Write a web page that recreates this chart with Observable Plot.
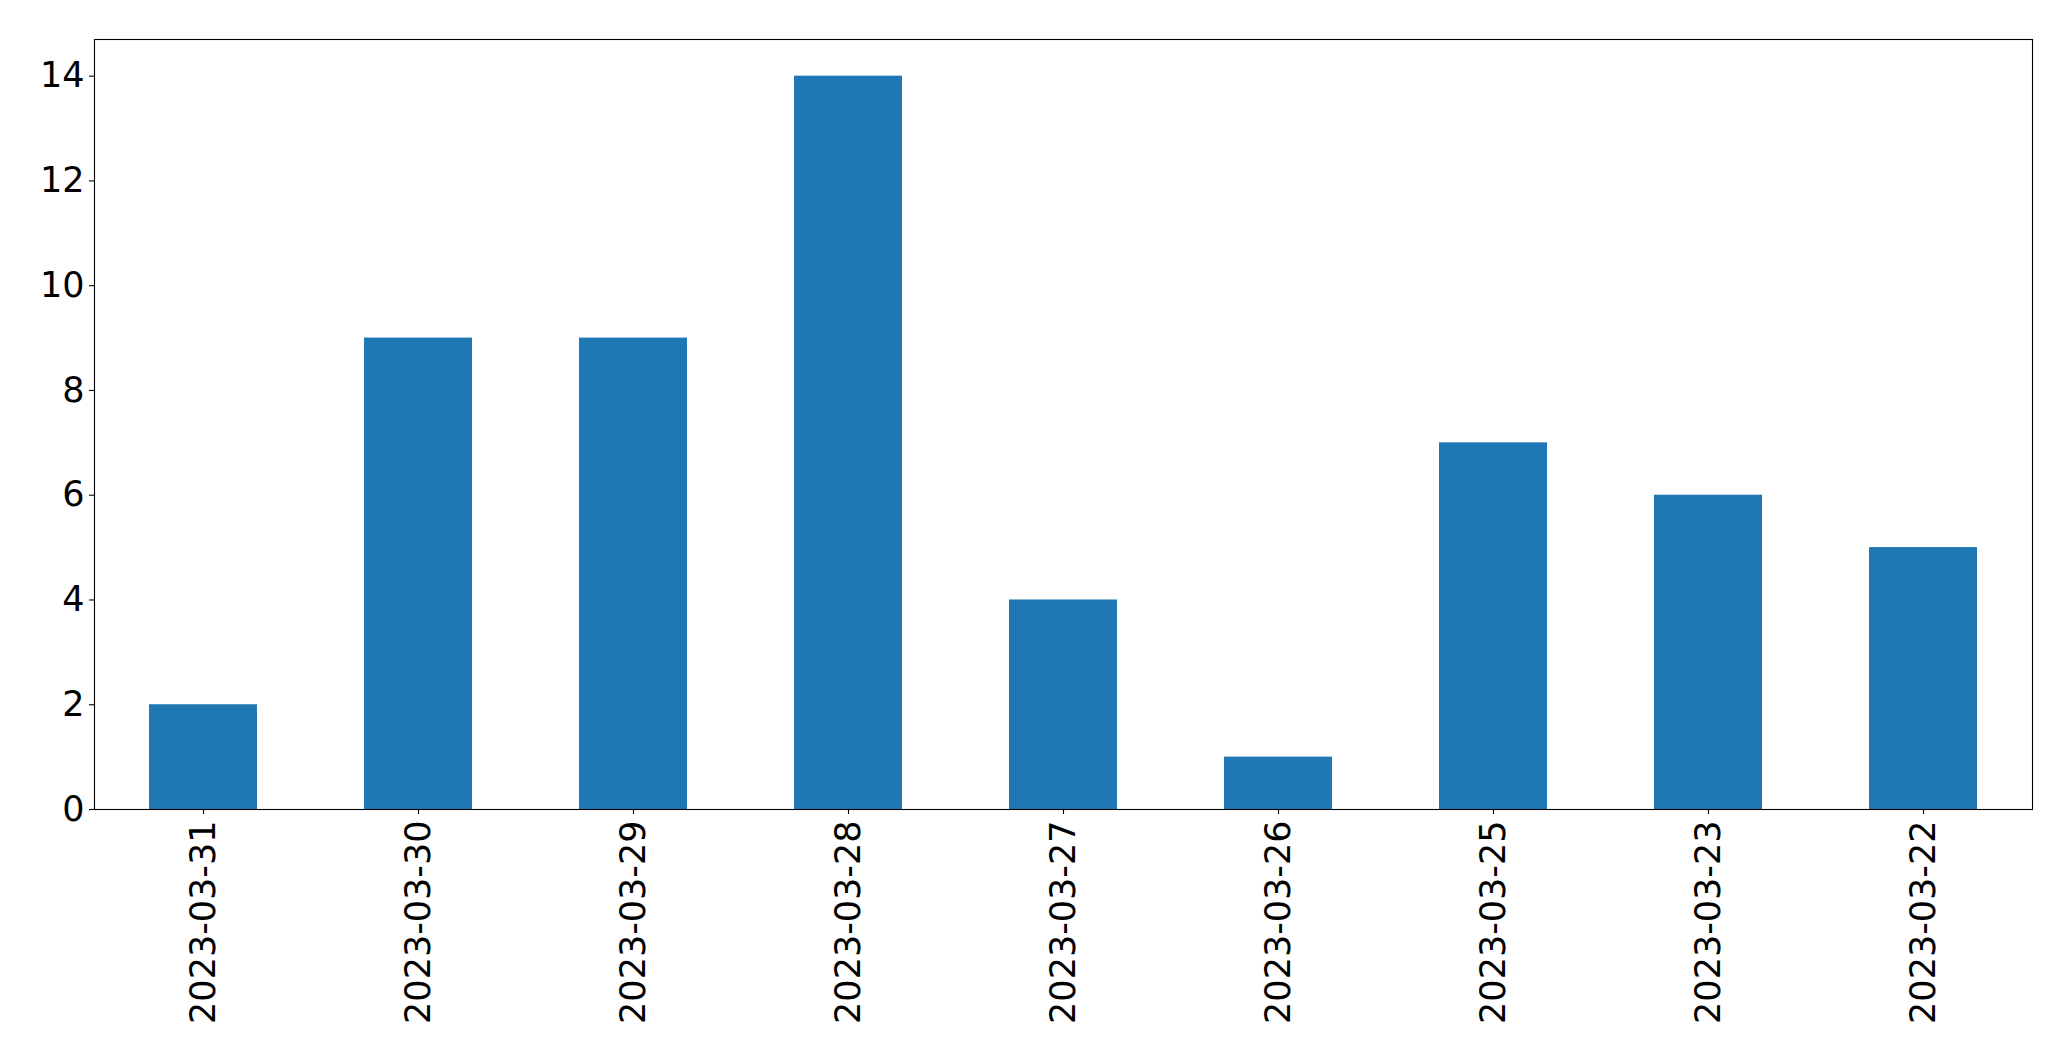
<!DOCTYPE html>
<html>
<head>
<meta charset="utf-8">
<script src="https://cdn.jsdelivr.net/npm/d3@7"></script>
<script src="https://cdn.jsdelivr.net/npm/@observablehq/plot@0.6"></script>
<style>
  html, body { margin: 0; padding: 0; background: white; }
  #chart svg { display: block; }
</style>
</head>
<body>
<div id="chart"></div>
<script>
const dates = ["2023-03-31","2023-03-30","2023-03-29","2023-03-28","2023-03-27","2023-03-26","2023-03-25","2023-03-23","2023-03-22"];
const counts = [2, 9, 9, 14, 4, 1, 7, 6, 5];
const yTicks = [0, 2, 4, 6, 8, 10, 12, 14];

const data = dates.map((d, i) => ({date: d, count: counts[i]}));

const chart = Plot.plot({
  width: 2071,
  height: 1061,
  marginLeft: 94,
  marginRight: 39,
  marginTop: 39,
  marginBottom: 252,
  style: {fontSize: "35px", fontFamily: "DejaVu Sans", color: "black", background: "white"},
  x: {domain: dates, paddingInner: 0.5, paddingOuter: 0.25, label: null},
  y: {domain: [0, 14.7], label: null},
  marks: [
    Plot.barY(data, {x: "date", y: "count", fill: "#1f77b4"}),
    Plot.frame({stroke: "black", strokeWidth: 1.1}),
    Plot.axisX({tickSize: 5, tickPadding: 6, tickRotate: -90, label: null, strokeWidth: 1.1}),
    Plot.axisY({ticks: yTicks, tickSize: 5, tickPadding: 5, label: null, strokeWidth: 1.1})
  ]
});
document.getElementById("chart").appendChild(chart);
</script>
</body>
</html>
